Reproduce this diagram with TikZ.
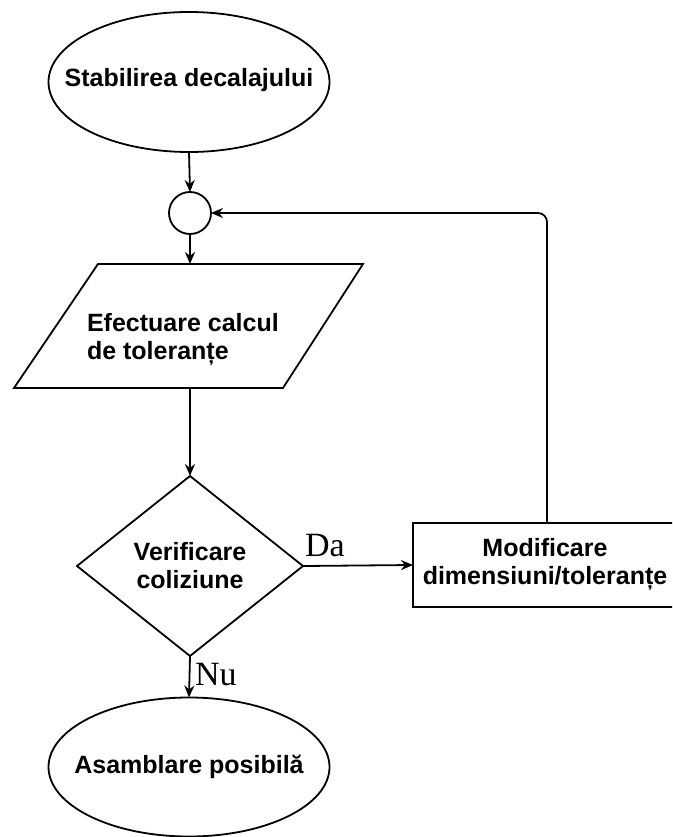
\documentclass[tikz,border=0pt]{standalone}
\usepackage{fontspec}
\setmainfont{Liberation Sans}
\newfontfamily\serifl{Liberation Serif}
\usetikzlibrary{shapes.geometric,arrows.meta}
\begin{document}
\begin{tikzpicture}[x=1pt,y=-1pt,
  every node/.style={inner sep=0pt, outer sep=0pt},
  lbl/.style={font=\fontsize{25}{28}\selectfont\bfseries, align=center},
  shp/.style={draw, line width=1.8pt, fill=white},
  conn/.style={line width=1.8pt, -{Stealth[length=12pt,width=10pt]}},
  edgelbl/.style={font=\serifl\fontsize{34}{38}\selectfont}
]
\useasboundingbox (0,0) rectangle (672,837);
\clip (0,0) rectangle (672,837);
\fill[white] (0,0) rectangle (672,837);

\node[shp, ellipse, minimum width=281pt, minimum height=140pt] (start) at (189,82) {};
\node[lbl] (starttext) at (189,80) {Stabilirea decalajului};
\node[shp, circle, minimum size=42pt] (join) at (190,213) {};

\draw[shp] (98,264) -- (363,264) -- (283,388) -- (14,388) -- cycle;
\coordinate (calcT) at (190,264);
\coordinate (calcB) at (190,388);
\node[lbl, align=left, anchor=west] (calc) at (87,339) {Efectuare calcul\\de toleranțe};

\node[shp, diamond, aspect=1.256, minimum width=226pt, minimum height=180pt, lbl] (check) at (190,566) {Verificare\\coliziune};

\node[shp, rectangle, minimum width=300pt, minimum height=84pt] (modify) at (563,565) {};
\node[lbl] (modtext) at (545,564) {Modificare\\dimensiuni/toleranțe};

\node[shp, ellipse, minimum width=281pt, minimum height=139pt] (end) at (189,767) {};
\node[lbl] (endtext) at (189,767) {Asamblare posibilă};

\draw[conn] (start.south) -- (join.north);
\draw[conn] (join.south) -- (calcT);
\draw[conn] (calcB) -- (check.north);
\draw[conn] (check.east) -- (modify.west);
\draw[conn] (check.south) -- (end.north);
\draw[conn, rounded corners=9pt] ([xshift=134pt]modify.north west) |- (join.east);

\node[edgelbl, anchor=west] (da) at (305,546) {Da};
\node[edgelbl, anchor=west] (nu) at (195,675) {Nu};
\end{tikzpicture}
\end{document}
